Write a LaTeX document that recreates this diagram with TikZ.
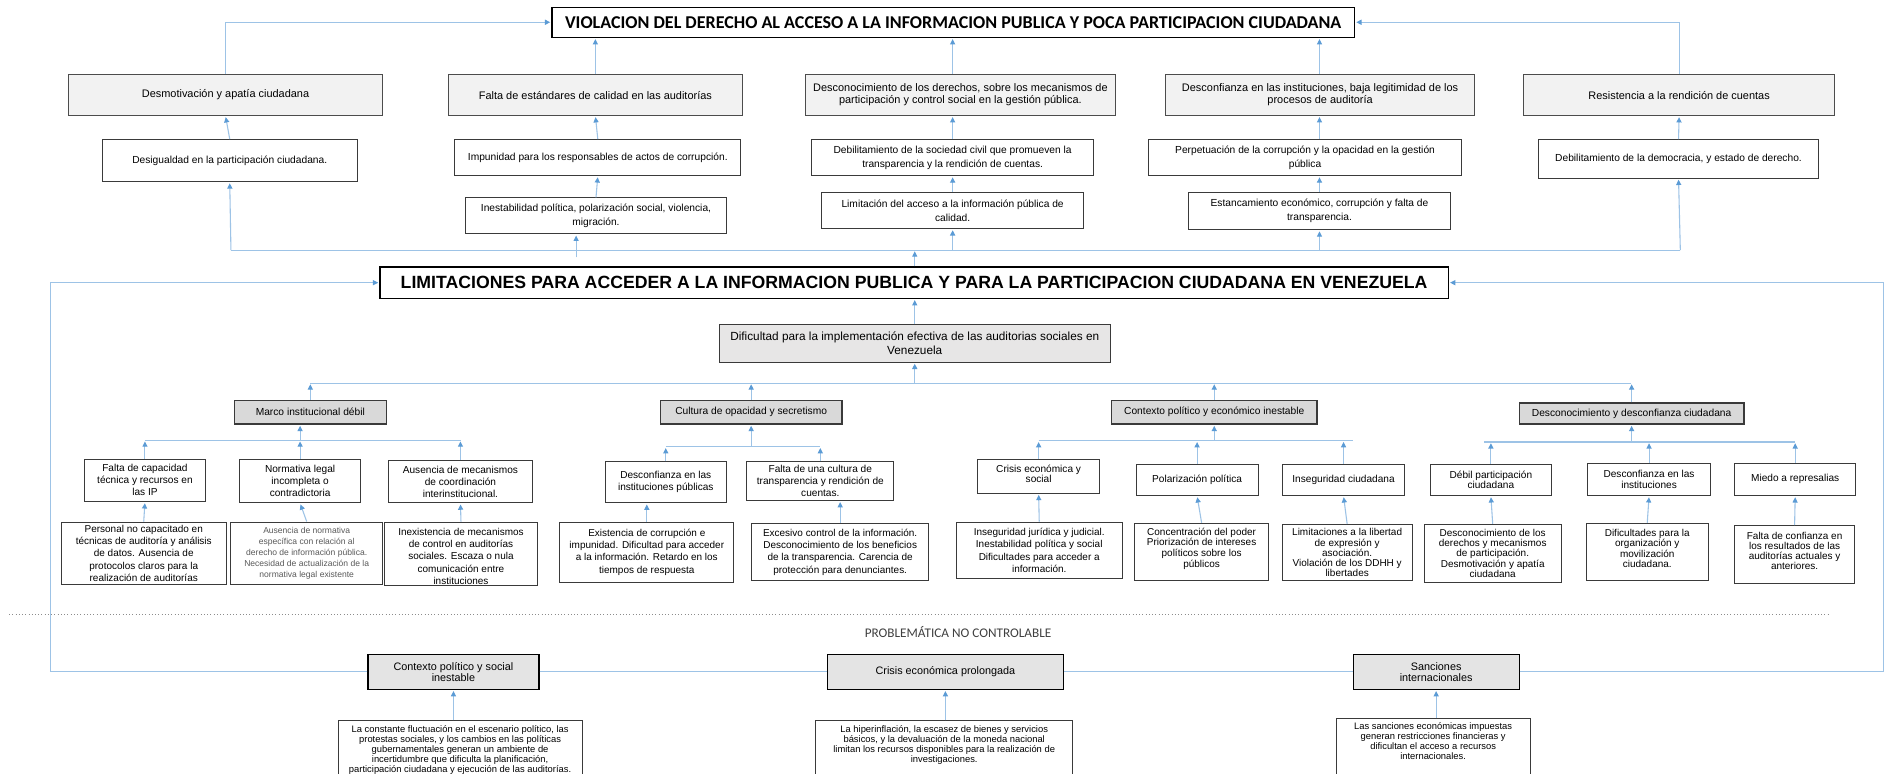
\documentclass[tikz,border=0pt]{standalone}
\usepackage{fontspec}
\setmainfont{Liberation Sans}
\newfontfamily\calib{Carlito}
\usetikzlibrary{arrows.meta}
\definecolor{lnblue}{HTML}{9DC3E6}
\definecolor{hdblue}{HTML}{5B9BD5}
\definecolor{bord}{HTML}{3A3A3A}
\definecolor{fillA}{HTML}{F2F2F2}
\definecolor{fillB}{HTML}{D9D9D9}
\definecolor{fillC}{HTML}{E7E6E6}
\definecolor{fillD}{HTML}{E4E4E4}
\definecolor{grtxt}{HTML}{595959}
\definecolor{dktxt}{HTML}{404040}
\newcommand{\fs}[2]{\fontsize{#1}{#2}\selectfont}
\newcommand{\bx}[8][0]{%
  \pgfmathsetmacro\bxw{#5-#3}%
  \pgfmathsetmacro\bxh{#6-#4}%
  \pgfmathsetmacro\bxx{(#3+#5)/2}%
  \pgfmathsetmacro\bxc{(#4+#6)/2}%
  \pgfmathsetmacro\bxy{(#4+#6)/2+#1}%
  \node[bx,#7,minimum width=\bxw pt,minimum height=\bxh pt] (#2) at (\bxx,\bxc) {};
  \node[bx,#7,draw=none,fill=none,minimum width=0pt,minimum height=0pt] (#2-t) at (\bxx,\bxy) {#8};}
\tikzset{
  bx/.style={draw=bord, line width=0.8pt, fill=white, inner sep=0pt, align=center, text=black},
  rowA/.style={draw=black!70, fill=fillA, font=\fs{9.1}{10}},
  rowB/.style={font=\fs{8.5}{11.5}},
  lvl2/.style={fill=fillB, line width=1pt, font=\fs{8.5}{10}},
  lvl3/.style={font=\fs{8.4}{10}},
  lvl3b/.style={font=\fs{8.4}{8.6}},
  lvl4/.style={font=\fs{8.3}{10.2}},
  lvl4b/.style={font=\fs{8.3}{8.5}},
  lvl4c/.style={font=\fs{8.3}{8.8}},
  lvl4g/.style={font=\fs{7.1}{9}, text=grtxt},
  bot/.style={fill=fillD, draw=black, line width=1.1pt, font=\fs{9}{9}},
  det/.style={font=\fs{7.8}{8.3}},
  conn/.style={draw=lnblue, line width=0.9pt},
  arr/.style={conn, -{Triangle[width=4.2pt,length=4.4pt,color=hdblue]}, shorten >=1pt},
}
\begin{document}
\begin{tikzpicture}[x=1pt,y=-1pt]
\useasboundingbox (0,0) rectangle (1568,643);
\clip (0,0) rectangle (1568,643);
\fill[white] (0,0) rectangle (1568,643);

% ---- titles
\bx{t1}{459}{6}{1126}{31}{line width=1.1pt,draw=black,font=\calib\bfseries\fs{15}{16}}{VIOLACION DEL DERECHO AL ACCESO A LA INFORMACION PUBLICA Y POCA PARTICIPACION CIUDADANA}
\bx{t2}{316}{222}{1204}{248}{line width=1.1pt,draw=black,font=\bfseries\fs{14.7}{16}}{LIMITACIONES PARA ACCEDER A LA INFORMACION PUBLICA Y PARA LA PARTICIPACION CIUDADANA EN VENEZUELA}

% ---- effects row 1
\bx{desmot}{57}{62}{318}{96}{rowA}{Desmotivación y apatía ciudadana}
\bx{falta1}{373}{62}{617}{96}{rowA}{Falta de estándares de calidad en las auditorías}
\bx{descon1}{670}{62}{927}{96}{rowA}{Desconocimiento de los derechos, sobre los mecanismos de\\participación y control social en la gestión pública.}
\bx{desconf1}{969}{62}{1226}{96}{rowA}{Desconfianza en las instituciones, baja legitimidad de los\\procesos de auditoría}
\bx{resist}{1267}{62}{1525}{96}{rowA}{Resistencia a la rendición de cuentas}
% ---- row 2
\bx{desig}{85}{116}{297}{151}{rowB}{Desigualdad en la participación ciudadana.}
\bx{impun}{378}{116}{616}{146}{rowB}{Impunidad para los responsables de actos de corrupción.}
\bx{debsoc}{675}{116}{909}{146}{rowB}{Debilitamiento de la sociedad civil que promueven la\\transparencia y la rendición de cuentas.}
\bx{perpet}{955}{116}{1215}{146}{rowB}{Perpetuación de la corrupción y la opacidad en la gestión\\pública}
\bx{debdem}{1279}{116}{1512}{148}{rowB}{Debilitamiento de la democracia, y estado de derecho.}
% ---- row 3
\bx{inest}{387}{164.5}{604}{194.5}{rowB}{Inestabilidad política, polarización social, violencia,\\migración.}
\bx{limit}{683}{160}{901}{190}{rowB}{Limitación del acceso a la información pública de\\calidad.}
\bx{estanc}{988}{160}{1206}{191}{rowB}{Estancamiento económico, corrupción y falta de\\transparencia.}

% ---- causes
\bx{dific}{598}{270}{923}{301}{fill=fillC,font=\fs{9.8}{11.9}}{Dificultad para la implementación efectiva de las auditorias sociales en\\Venezuela}
\bx{marco}{195}{333}{321}{352.5}{lvl2}{Marco institucional débil}
\bx{cultura}{549}{333}{700}{352.5}{lvl2}{Cultura de opacidad y secretismo}
\bx{ctxpe}{924}{333}{1095}{352.5}{lvl2}{Contexto político y económico inestable}
\bx{descdesc}{1263}{335}{1450}{352.5}{lvl2}{Desconocimiento y desconfianza ciudadana}

\bx{faltaCap}{70}{381.6}{171}{417}{lvl3}{Falta de capacidad\\técnica y recursos en\\las IP}
\bx{normat}{199}{382}{300}{418}{lvl3}{Normativa legal\\incompleta o\\contradictoria}
\bx{ausMec}{322.6}{383}{443}{418}{lvl3}{Ausencia de mecanismos\\de coordinación\\interinstitucional.}
\bx{desconfPub}{503}{384}{604}{418}{lvl3}{Desconfianza en las\\instituciones públicas}
\bx{faltaCult}{621}{384}{743}{416}{lvl3}{Falta de una cultura de\\transparencia y rendición de\\cuentas.}
\bx[-2]{crisisSoc}{813}{382}{914}{410}{lvl3b}{Crisis económica y\\social}
\bx{polar}{944.5}{386}{1046}{412}{lvl3}{Polarización política}
\bx{inseg}{1066}{386}{1168}{412}{lvl3}{Inseguridad ciudadana}
\bx{debil}{1189}{386}{1290}{412}{lvl3b}{Débil participación\\ciudadana}
\bx{desconfInst}{1320}{385}{1422}{412}{lvl3b}{Desconfianza en las\\instituciones}
\bx{miedo}{1442}{385}{1543}{412}{lvl3}{Miedo a represalias}

\bx{personal}{51}{434}{188}{486}{lvl4}{Personal no capacitado en\\técnicas de auditoría y análisis\\de datos. Ausencia de\\protocolos claros para la\\realización de auditorías}
\bx{ausNorm}{192}{434}{318}{486}{lvl4g}{Ausencia de normativa\\específica con relación al\\derecho de información pública.\\Necesidad de actualización de la\\normativa legal existente}
\bx[2]{inexist}{320}{434}{446.5}{487}{lvl4}{Inexistencia de mecanismos\\de control en auditorías\\sociales. Escaza o nula\\comunicación entre\\instituciones}
\bx{existen}{465.5}{434}{610}{484}{lvl4}{Existencia de corrupción e\\impunidad. Dificultad para acceder\\a la información. Retardo en los\\tiempos de respuesta}
\bx{excesivo}{625}{435}{772}{483}{lvl4}{Excesivo control de la información.\\Desconocimiento de los beneficios\\de la transparencia. Carencia de\\protección para denunciantes.}
\bx{insegJur}{795}{434}{933}{481}{lvl4}{Inseguridad jurídica y judicial.\\Inestabilidad política y social\\Dificultades para acceder a\\información.}
\bx[-3]{concent}{943}{435}{1055}{483}{lvl4c}{Concentración del poder\\Priorización de intereses\\políticos sobre los\\públicos}
\bx{limLib}{1066}{436}{1174}{483}{lvl4b}{Limitaciones a la libertad\\de expresión y\\asociación.\\Violación de los DDHH y\\libertades}
\bx{descDer}{1184}{436}{1298}{484}{lvl4b}{Desconocimiento de los\\derechos y mecanismos\\de participación.\\Desmotivación y apatía\\ciudadana}
\bx[-3]{dificult}{1319}{435}{1420}{483}{lvl4b}{Dificultades para la\\organización y\\movilización\\ciudadana.}
\bx[-3]{faltaConf}{1442}{437}{1542}{485}{lvl4b}{Falta de confianza en\\los resultados de las\\auditorías actuales y\\anteriores.}

% ---- non controllable
\coordinate (dotL) at (7.5,510.5);
\coordinate (dotR) at (1521.5,510.5);
\draw[dotted, draw=black!45, line width=0.7pt] (dotL) -- (dotR);
\node[font=\calib\fs{11}{12}, text=dktxt, inner sep=0pt] (probl) at (796.5,525.5) {PROBLEMÁTICA NO CONTROLABLE};

\bx{ctxB}{306}{544}{448}{573}{bot}{Contexto político y social\\inestable}
\bx{crisisB}{688}{544}{884}{573}{bot}{Crisis económica prolongada}
\bx{sanc}{1125}{544}{1263}{573}{bot}{Sanciones\\internacionales}

\node[bx, minimum width=203pt, minimum height=70pt, anchor=north] (det1) at (382.5,599) {};
\node[bx, det, draw=none, fill=none, anchor=north] (det1-t) at ([yshift=-3.5pt]det1.north) {La constante fluctuación en el escenario político, las\\protestas sociales, y los cambios en las políticas\\gubernamentales generan un ambiente de\\incertidumbre que dificulta la planificación,\\participación ciudadana y ejecución de las auditorías.};
\node[bx, minimum width=214pt, minimum height=70pt, anchor=north] (det2) at (785,599) {};
\node[bx, det, draw=none, fill=none, anchor=north] (det2-t) at ([yshift=-3.5pt]det2.north) {La hiperinflación, la escasez de bienes y servicios\\básicos, y la devaluación de la moneda nacional\\limitan los recursos disponibles para la realización de\\investigaciones.};
\node[bx, minimum width=161pt, minimum height=72pt, anchor=north] (det3) at (1191.5,597) {};
\node[bx, det, draw=none, fill=none, anchor=north] (det3-t) at ([yshift=-3.5pt]det3.north) {Las sanciones económicas impuestas\\generan restricciones financieras y\\dificultan el acceso a recursos\\internacionales.};

% ================= connectors
% top title
\draw[arr] (desmot.north) |- (t1.west);
\draw[arr] (resist.north) |- (t1.east);
\draw[arr] (falta1.north) -- (falta1.north |- t1.south);
\draw[arr] (debsoc.north |- descon1.north) -- (debsoc.north |- t1.south);
\draw[arr] (estanc.north |- desconf1.north) -- (estanc.north |- t1.south);
% row2 -> row1
\draw[arr] (desig.north) -- (desmot.south);
\draw[arr] (impun.north) -- (falta1.south);
\draw[arr] (debsoc.north) -- (debsoc.north |- descon1.south);
\draw[arr] (estanc.north |- perpet.north) -- (estanc.north |- desconf1.south);
\draw[arr] (debdem.north) -- (resist.south);
% row3 -> row2
\draw[arr] (inest.north) -- (impun.south);
\draw[arr] (limit.north) -- (debsoc.south);
\draw[arr] (estanc.north) -- (estanc.north |- perpet.south);
% bus of effects
\coordinate (busA) at (192,208);
\coordinate (busB) at (1397,208);
\draw[conn] (busA) -- (busB);
\draw[arr] (busA) -- (desig.south);
\draw[arr] (limit.south |- busA) -- (limit.south);
\draw[arr] (estanc.south |- busA) -- (estanc.south);
\draw[arr] (busB) -- (debdem.south);
\coordinate (inestIn) at (479,214);
\draw[arr] (inestIn) -- (inestIn |- inest.south);
\draw[arr] (t2.north -| dific.north) -- (dific.north |- busA);
\draw[arr] (dific.north) -- (dific.north |- t2.south);
% main bus of causes
\coordinate (busM1) at (258,318.5);
\coordinate (busM2) at (1356,318.5);
\draw[conn] (busM1) -- (busM2);
\draw[arr] (dific.south |- busM1) -- (dific.south);
\draw[arr] (marco.north) -- (marco.north |- busM1);
\draw[arr] (cultura.north) -- (cultura.north |- busM1);
\draw[arr] (ctxpe.north) -- (ctxpe.north |- busM1);
\draw[arr] (descdesc.north) -- (descdesc.north |- busM1);
% sub buses
\coordinate (sM1) at (120.5,366); \coordinate (sM2) at (383,366);
\draw[conn] (sM1) -- (sM2);
\draw[arr] (normat.north |- sM1) -- (normat.north |- marco.south);
\draw[arr] (faltaCap.north) -- (faltaCap.north |- sM1);
\draw[arr] (normat.north) -- (normat.north |- sM1);
\draw[arr] (ausMec.north) -- (ausMec.north |- sM1);
\coordinate (sC1) at (553.5,371.5); \coordinate (sC2) at (682,371.5);
\draw[conn] (sC1) -- (sC2);
\draw[arr] (cultura.south |- sC1) -- (cultura.south);
\draw[arr] (desconfPub.north) -- (desconfPub.north |- sC1);
\draw[arr] (faltaCult.north) -- (faltaCult.north |- sC1);
\coordinate (sP1) at (863.5,366.5); \coordinate (sP2) at (1125,366.5);
\draw[conn] (sP1) -- (sP2);
\draw[arr] (ctxpe.south |- sP1) -- (ctxpe.south);
\draw[arr] (crisisSoc.north) -- (crisisSoc.north |- sP1);
\draw[arr] (polar.north) -- (polar.north |- sP1);
\draw[arr] (inseg.north) -- (inseg.north |- sP1);
\coordinate (sD1) at (1234,367.5); \coordinate (sD2) at (1492.5,367.5);
\draw[conn] (sD1) -- (sD2);
\draw[arr] (descdesc.south |- sD1) -- (descdesc.south);
\draw[arr] (debil.north) -- (debil.north |- sD1);
\draw[arr] (desconfInst.north) -- (desconfInst.north |- sD1);
\draw[arr] (miedo.north) -- (miedo.north |- sD1);
% level 4 -> level 3
\draw[arr] (personal.north) -- (faltaCap.south);
\draw[arr] (ausNorm.north) -- (normat.south);
\draw[arr] (inexist.north) -- (ausMec.south);
\draw[arr] (existen.north) -- (existen.north |- desconfPub.south);
\draw[arr] (excesivo.north) -- (excesivo.north |- faltaCult.south);
\draw[arr] (insegJur.north) -- (crisisSoc.south);
\draw[arr] (concent.north) -- (polar.south);
\draw[arr] (limLib.north) -- (inseg.south);
\draw[arr] (descDer.north) -- (debil.south);
\draw[arr] (dificult.north) -- (desconfInst.south);
\draw[arr] (faltaConf.north) -- (miedo.south);
% bottom
\coordinate (loopL) at (42,0);
\coordinate (loopR) at (1566,0);
\draw[arr] (ctxB.west) -- (ctxB.west -| loopL) -- (loopL |- t2.west) -- (t2.west);
\draw[arr] (sanc.east) -- (sanc.east -| loopR) -- (loopR |- t2.east) -- (t2.east);
\draw[conn] (ctxB.east) -- (crisisB.west);
\draw[conn] (crisisB.east) -- (sanc.west);
\draw[arr] (ctxB.south |- det1.north) -- (ctxB.south);
\draw[arr] (crisisB.south |- det2.north) -- (crisisB.south);
\draw[arr] (sanc.south |- det3.north) -- (sanc.south);
\end{tikzpicture}
\end{document}
